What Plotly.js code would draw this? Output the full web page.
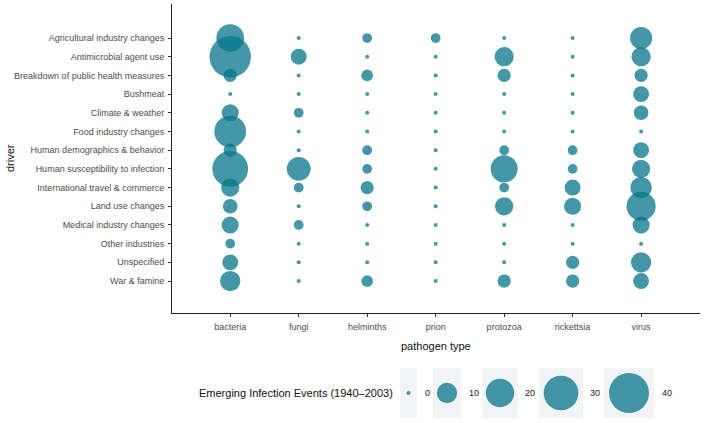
<!DOCTYPE html>
<html>
<head>
<meta charset="utf-8">
<script src="https://cdn.plot.ly/plotly-3.0.1.min.js"></script>
<style>
    html, body { margin: 0; padding: 0; background: #fff; }
    #chart { width: 704px; height: 423px; }
</style>
</head>
<body>
<div id="chart"></div>
<script>
// Emerging infection events by driver and pathogen type
const pathogens = ['bacteria', 'fungi', 'helminths', 'prion', 'protozoa', 'rickettsia', 'virus'];

const drivers = [
    'Agricultural industry changes',
    'Antimicrobial agent use',
    'Breakdown of public health measures',
    'Bushmeat',
    'Climate & weather',
    'Food industry changes',
    'Human demographics & behavior',
    'Human susceptibility to infection',
    'International travel & commerce',
    'Land use changes',
    'Medical industry changes',
    'Other industries',
    'Unspecified',
    'War & famine'
];

// counts per pathogen, in the order of drivers
const bacteria   = [19, 43, 4, 0, 7, 25, 4, 32, 8, 5, 7, 2, 6, 10];
const fungi      = [0, 6, 0, 0, 2, 0, 0, 14, 2, 0, 2, 0, 0, 0];
const helminths  = [2, 0, 3, 0, 0, 0, 2, 2, 4, 2, 0, 0, 0, 3];
const prion      = [2, 0, 0, 0, 0, 0, 0, 0, 0, 0, 0, 0, 0, 0];
const protozoa   = [0, 9, 4, 0, 0, 0, 2, 18, 2, 8, 0, 0, 0, 4];
const rickettsia = [0, 0, 0, 0, 0, 0, 2, 2, 6, 7, 0, 0, 4, 4];
const virus      = [12, 9, 4, 6, 5, 0, 6, 8, 11, 21, 7, 0, 10, 6];

const legendValues = [0, 10, 20, 30, 40];
const legendLabels = ['0', '10', '20', '30', '40'];

const counts = [bacteria, fungi, helminths, prion, protozoa, rickettsia, virus];

const W = 704, H = 423;
const FONT = 'Liberation Sans, Arial, sans-serif';
const FILL = 'rgba(8,118,138,0.76)';

// bubble diameter in px (area grows with count)
function bubble(v) {
    return Math.sqrt(16 + 39.6 * v);
}

// build long-form points
const px = [], py = [], ps = [];
pathogens.forEach((p, i) => {
    counts[i].forEach((v, j) => {
        px.push(p);
        py.push(drivers[j]);
        ps.push(bubble(v));
    });
});

const mainTrace = {
    x: px,
    y: py,
    type: 'scatter',
    mode: 'markers',
    marker: { size: ps, sizemode: 'diameter', color: FILL, opacity: 1, line: { width: 0 } },
    hoverinfo: 'skip',
    showlegend: false
};

// size legend, drawn on a pixel-scaled overlay axis
const keyLeft  = [400, 433, 482, 539, 604];
const keyRight = [417, 461, 518, 583, 654];
const labelLeft = [423, 467, 523, 588, 660];
const keyY = 393;

const legendTrace = {
    x: keyLeft.map((l, i) => (l + keyRight[i]) / 2),
    y: legendValues.map(() => keyY),
    xaxis: 'x2',
    yaxis: 'y2',
    type: 'scatter',
    mode: 'markers',
    marker: { size: legendValues.map(bubble), sizemode: 'diameter', color: FILL, opacity: 1, line: { width: 0 } },
    hoverinfo: 'skip',
    showlegend: false
};

const shapes = keyLeft.map((l, i) => ({
    type: 'rect', xref: 'x2', yref: 'y2', layer: 'below',
    x0: l, x1: keyRight[i], y0: 368, y1: 418,
    fillcolor: '#f2f3f5', line: { width: 0 }
}));

const annotations = legendLabels.map((t, i) => ({
    text: t, xref: 'x2', yref: 'y2', x: labelLeft[i], y: keyY,
    xanchor: 'left', yanchor: 'middle', showarrow: false,
    font: { family: FONT, size: 9, color: '#222' }
}));

annotations.push({
    text: 'Emerging Infection Events (1940\u20132003)',
    xref: 'x2', yref: 'y2', x: 395, y: keyY,
    xanchor: 'right', yanchor: 'middle', showarrow: false,
    font: { family: FONT, size: 11, color: '#111' }
});
annotations.push({
    text: 'pathogen type', xref: 'x2', yref: 'y2', x: 436, y: 346,
    xanchor: 'center', yanchor: 'middle', showarrow: false,
    font: { family: FONT, size: 11, color: '#111' }
});
annotations.push({
    text: 'driver', xref: 'x2', yref: 'y2', x: 10, y: 158,
    xanchor: 'center', yanchor: 'middle', showarrow: false, textangle: -90,
    font: { family: FONT, size: 11, color: '#111' }
});

const axisCommon = {
    type: 'category',
    showgrid: false,
    zeroline: false,
    showline: true,
    linecolor: '#222',
    linewidth: 1,
    ticks: 'outside',
    ticklen: 3,
    tickcolor: '#333',
    tickfont: { family: FONT, size: 9, color: '#4d4d4d' },
    fixedrange: true
};

const layout = {
    width: W,
    height: H,
    margin: { l: 0, r: 0, t: 0, b: 0 },
    paper_bgcolor: '#fff',
    plot_bgcolor: 'rgba(0,0,0,0)',
    xaxis: Object.assign({}, axisCommon, {
        domain: [172 / W, 700 / W],
        categoryarray: pathogens,
        categoryorder: 'array',
        range: [-0.85, 6.86],
        ticklabelstandoff: 2
    }),
    yaxis: Object.assign({}, axisCommon, {
        domain: [(H - 313) / H, (H - 4) / H],
        categoryarray: drivers,
        categoryorder: 'array',
        range: [14.71, -1.82],
        ticklabelstandoff: 2
    }),
    xaxis2: { domain: [0, 1], range: [0, W], visible: false, fixedrange: true },
    yaxis2: { domain: [0, 1], range: [H, 0], visible: false, fixedrange: true },
    shapes: shapes,
    annotations: annotations,
    showlegend: false
};

Plotly.newPlot('chart', [mainTrace, legendTrace], layout, {
    displayModeBar: false,
    staticPlot: true
});
</script>
</body>
</html>
